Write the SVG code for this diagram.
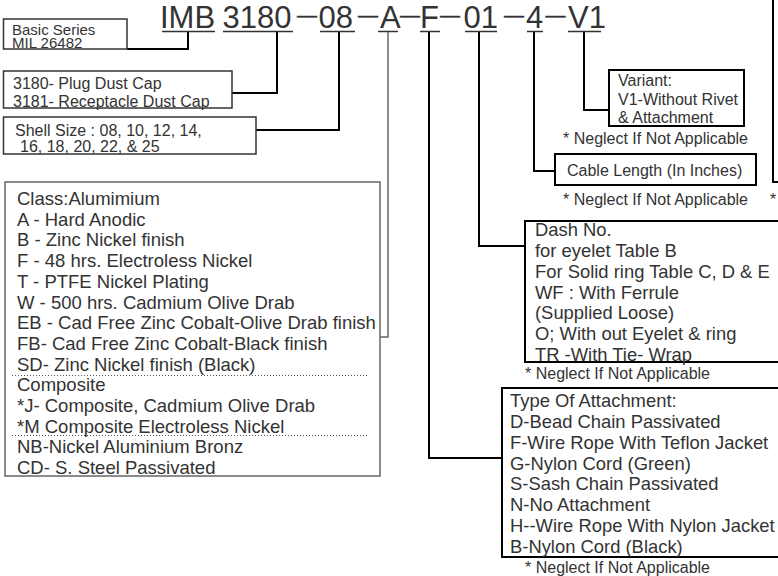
<svg xmlns="http://www.w3.org/2000/svg" width="778" height="576" viewBox="0 0 778 576">
<style>
text{font-family:"Liberation Sans",Arial,sans-serif;fill:#333}
.t{font-size:31px}
.d{font-size:20px;stroke:#333;stroke-width:0.4}
.s{font-size:16px}
.b1{font-size:15px}
.l{font-size:18.4px}
.c{font-size:18.5px}
.box{fill:none;stroke:#333;stroke-width:1.5}
.bk{fill:none;stroke:#000;stroke-width:2}
.gr{fill:none;stroke:#666;stroke-width:1.5}
.ul{stroke:#333;stroke-width:1.5}
.con{fill:none;stroke:#000;stroke-width:2}
.cong{fill:none;stroke:#666;stroke-width:1.5}
.dot{stroke:#555;stroke-width:1;stroke-dasharray:1 2}
</style>
<rect width="778" height="576" fill="#fff"/>
<g id="title">
<text class="t" x="160" y="28">IMB</text>
<text class="t" x="222.5" y="28">3180</text>
<text class="d" x="297" y="21.5">—</text>
<text class="t" x="318.5" y="28">08</text>
<text class="d" x="358" y="21.5">—</text>
<text class="t" x="380" y="28">A</text>
<text class="d" x="400" y="21.5">—</text>
<text class="t" x="420" y="28">F</text>
<text class="d" x="440" y="21.5">—</text>
<text class="t" x="463.5" y="28">01</text>
<text class="d" x="504" y="21.5">—</text>
<text class="t" x="526" y="28">4</text>
<text class="d" x="545.5" y="21.5">—</text>
<text class="t" x="568" y="28">V1</text>
<line class="ul" x1="162" y1="31.5" x2="215" y2="31.5"/>
<line class="ul" x1="223" y1="31.5" x2="293" y2="31.5"/>
<line class="ul" x1="320" y1="31.5" x2="355" y2="31.5"/>
<line class="ul" x1="378" y1="31.5" x2="398" y2="31.5"/>
<line class="ul" x1="420" y1="31.5" x2="440" y2="31.5"/>
<line class="ul" x1="465" y1="31.5" x2="497" y2="31.5"/>
<line class="ul" x1="527" y1="31.5" x2="543" y2="31.5"/>
<line class="ul" x1="568" y1="31.5" x2="601" y2="31.5"/>
</g>
<g id="connectors">
<path class="con" d="M188,32 V49 H127"/>
<path class="con" d="M277,32 V93 H232"/>
<path class="con" d="M339,32 V130 H256"/>
<path class="cong" d="M388,32 V337 H380"/>
<path class="con" d="M429,32 V458 H502"/>
<path class="con" d="M479,32 V246 H525"/>
<path class="con" d="M534,32 V171 H555"/>
<path class="con" d="M584,32 V110 H609"/>
</g>
<g id="basic-series">
<rect class="box" x="3.5" y="19" width="123.5" height="30"/>
<text class="b1" x="12" y="34.5">Basic Series</text>
<text class="b1" x="12" y="48">MIL 26482</text>
</g>
<g id="plug-cap">
<rect class="box" x="3.5" y="71" width="228.5" height="37"/>
<text class="s" x="13" y="89">3180- Plug Dust Cap</text>
<text class="s" x="13" y="106.5">3181- Receptacle Dust Cap</text>
</g>
<g id="shell-size">
<rect class="box" x="3.5" y="117" width="252.5" height="37"/>
<text class="s" x="15" y="136">Shell Size : 08, 10, 12, 14,</text>
<text class="s" x="20" y="152">16, 18, 20, 22, &amp; 25</text>
</g>
<g id="class">
<rect class="gr" x="5" y="182" width="375" height="294"/>
<text class="c" x="17" y="205">Class:Alumimium</text>
<text class="c" x="17" y="225.7">A - Hard Anodic</text>
<text class="c" x="17" y="246.4">B - Zinc Nickel finish</text>
<text class="c" x="17" y="267.1">F - 48 hrs. Electroless Nickel</text>
<text class="c" x="17" y="287.8">T - PTFE Nickel Plating</text>
<text class="c" x="17" y="308.5">W - 500 hrs. Cadmium Olive Drab</text>
<text class="c" x="17" y="329.2">EB - Cad Free Zinc Cobalt-Olive Drab finish</text>
<text class="c" x="17" y="349.9">FB- Cad Free Zinc Cobalt-Black finish</text>
<text class="c" x="17" y="370.6">SD- Zinc Nickel finish (Black)</text>
<line class="dot" x1="12" y1="375.5" x2="367" y2="375.5"/>
<text class="c" x="17" y="391.3">Composite</text>
<text class="c" x="17" y="412">*J- Composite, Cadmium Olive Drab</text>
<text class="c" x="17" y="432.7">*M Composite Electroless Nickel</text>
<line class="dot" x1="12" y1="435.5" x2="367" y2="435.5"/>
<text class="c" x="17" y="453.4">NB-Nickel Aluminium Bronz</text>
<text class="c" x="17" y="474.1">CD- S. Steel Passivated</text>
</g>
<g id="variant">
<rect class="bk" x="609" y="70" width="135" height="56"/>
<text class="s" x="618" y="86">Variant:</text>
<text class="s" x="618" y="104.5">V1-Without Rivet</text>
<text class="s" x="618" y="123">&amp; Attachment</text>
<text class="s" x="563" y="144">* Neglect If Not Applicable</text>
</g>
<g id="cable-length">
<rect class="bk" x="555" y="154" width="201" height="31"/>
<text class="s" x="567" y="176">Cable Length (In Inches)</text>
<text class="s" x="563" y="205">* Neglect If Not Applicable</text>
</g>
<g id="right-box">
<path class="bk" d="M773,-5 V182 H790"/>
<text class="s" x="770" y="205">*</text>
</g>
<g id="dash-no">
<rect class="bk" x="525" y="221" width="300" height="141"/>
<text class="l" x="535" y="236">Dash No.</text>
<text class="l" x="535" y="256.8">for eyelet Table B</text>
<text class="l" x="535" y="277.7">For Solid ring Table C, D &amp; E</text>
<text class="l" x="535" y="298.5">WF : With Ferrule</text>
<text class="l" x="535" y="319.3">(Supplied Loose)</text>
<text class="l" x="535" y="340.2">O; With out Eyelet &amp; ring</text>
<text class="l" x="535" y="361">TR -With Tie- Wrap</text>
<text class="s" x="525" y="378.5">* Neglect If Not Applicable</text>
</g>
<g id="attachment">
<rect class="bk" x="502" y="388" width="300" height="169"/>
<text class="l" x="510" y="407">Type Of Attachment:</text>
<text class="l" x="510" y="427.9">D-Bead Chain Passivated</text>
<text class="l" x="510" y="448.7">F-Wire Rope With Teflon Jacket</text>
<text class="l" x="510" y="469.6">G-Nylon Cord (Green)</text>
<text class="l" x="510" y="490.4">S-Sash Chain Passivated</text>
<text class="l" x="510" y="511.3">N-No Attachment</text>
<text class="l" x="510" y="532.1">H--Wire Rope With Nylon Jacket</text>
<text class="l" x="510" y="553">B-Nylon Cord (Black)</text>
<text class="s" x="525" y="573">* Neglect If Not Applicable</text>
</g>
</svg>
